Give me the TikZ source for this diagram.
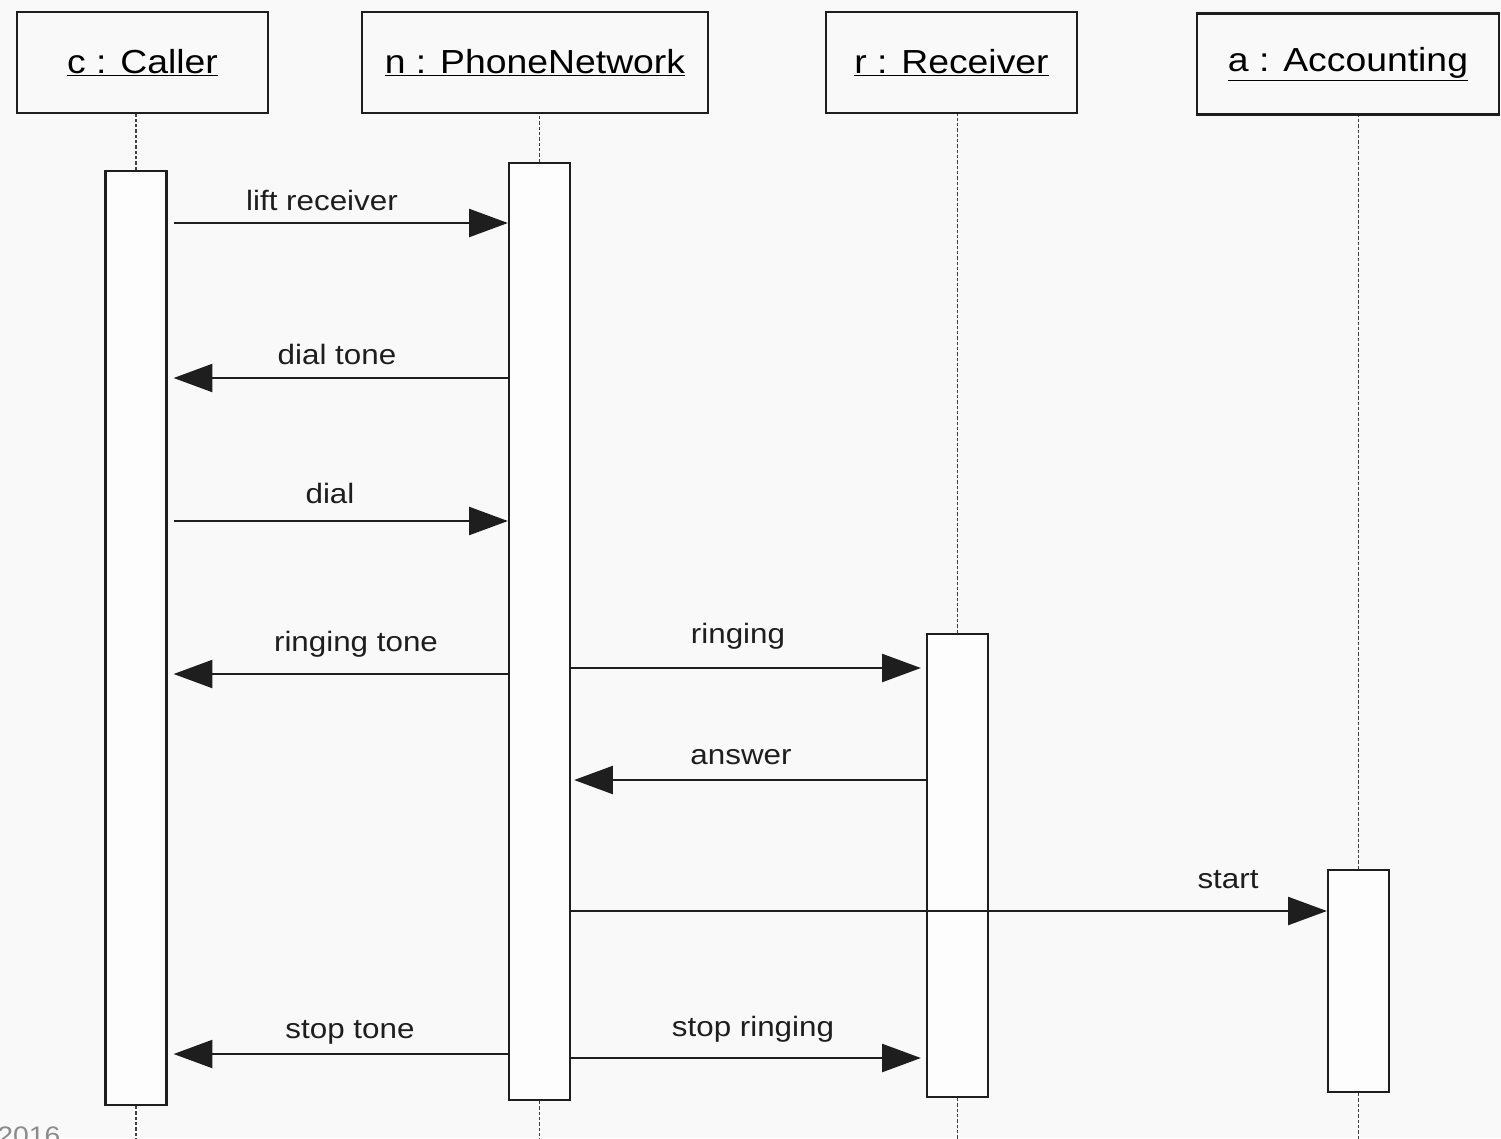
\documentclass[tikz,border=0pt]{standalone}
\usepackage{fontspec}
\setmainfont{Liberation Sans}[FakeStretch=1.12]
\usetikzlibrary{arrows.meta,calc}
\definecolor{bg}{RGB}{249,249,249}
\definecolor{ink}{RGB}{30,30,30}
\begin{document}
\begin{tikzpicture}[x=0.75pt,y=-0.75pt,
  head/.style={draw=ink,line width=1.7pt,fill=bg,rectangle,inner sep=0pt,
    minimum height=75.75pt,font=\fontsize{25}{28}\selectfont},
  act/.style={draw=ink,line width=1.7pt,fill=white!60!bg,rectangle,inner sep=0pt,minimum width=45.75pt},
  life/.style={draw=ink!85,line width=1.3pt,dash pattern=on 2.5pt off 1.5pt},
  msg/.style={draw=ink,line width=1.5pt,-{Triangle[length=29pt,width=21pt]}},
  lbl/.style={anchor=base,inner sep=0pt,text=ink,font=\fontsize{21}{24}\selectfont}]
\fill[bg] (0,0) rectangle (1501,1138);
\useasboundingbox (0,0) rectangle (1501,1138);

% headers
\node[head,minimum width=188.25pt] (hC) at (142.5,62.5) {\underline{c : Caller}};
\node[head,minimum width=259.5pt]  (hN) at (535,62.5)   {\underline{n : PhoneNetwork}};
\node[head,minimum width=188.25pt] (hR) at (951.5,62.5) {\underline{r : Receiver}};
\node[head,minimum width=226.5pt]  (hA) at (1348,64)    {\underline{a : Accounting}};

% activation boxes
\node[act,minimum height=700.5pt] (aC) at (136,638) {};
\node[act,minimum height=702.75pt] (aN) at (539.5,631.5) {};
\node[act,minimum height=347.25pt] (aR) at (957.5,865.5) {};
\node[act,minimum height=166.5pt] (aA) at (1358.5,981) {};

\coordinate (bot) at (0,1145);

% lifelines
\draw[life] (aC.north) -- (aC.north |- hC.south);
\draw[life] (aN.north) -- (aN.north |- hN.south);
\draw[life] (aR.north) -- (aR.north |- hR.south);
\draw[life] (aA.north) -- (aA.north |- hA.south);
\draw[life] (aC.south) -- (aC.south |- bot);
\draw[life] (aN.south) -- (aN.south |- bot);
\draw[life] (aR.south) -- (aR.south |- bot);
\draw[life] (aA.south) -- (aA.south |- bot);

% message levels
\coordinate (m1) at (0,223);
\coordinate (m2) at (0,378);
\coordinate (m3) at (0,521);
\coordinate (m4) at (0,674);
\coordinate (m5) at (0,668);
\coordinate (m6) at (0,780);
\coordinate (m7) at (0,911);
\coordinate (m8) at (0,1054);
\coordinate (m9) at (0,1058);

\draw[msg] ([xshift=4.5pt]aC.east |- m1) -- (aN.west |- m1);
\draw[msg] (aN.west |- m2) -- ([xshift=4.5pt]aC.east |- m2);
\draw[msg] ([xshift=4.5pt]aC.east |- m3) -- (aN.west |- m3);
\draw[msg] (aN.west |- m4) -- ([xshift=4.5pt]aC.east |- m4);
\draw[msg] (aN.east |- m5) -- ([xshift=-3.75pt]aR.west |- m5);
\draw[msg] (aR.west |- m6) -- ([xshift=2.25pt]aN.east |- m6);
\draw[msg] (aN.east |- m7) -- (aA.west |- m7);
\draw[msg] (aN.west |- m8) -- ([xshift=4.5pt]aC.east |- m8);
\draw[msg] (aN.east |- m9) -- ([xshift=-3.75pt]aR.west |- m9);

% labels
\node[lbl] (l1) at (322,210) {lift receiver};
\node[lbl] (l2) at (337,364) {dial tone};
\node[lbl] (l3) at (330,503) {dial};
\node[lbl] (l4) at (356,651) {ringing tone};
\node[lbl] (l5) at (738,643) {ringing};
\node[lbl] (l6) at (741,764) {answer};
\node[lbl] (l7) at (1228,888) {start};
\node[lbl] (l8) at (350,1038) {stop tone};
\node[lbl] (l9) at (753,1036) {stop ringing};

% cut-off corner text
\node[anchor=north west,inner sep=0pt,text=black!45,font=\fontsize{19}{22}\selectfont] (wm) at (-3,1127) {2016};
\end{tikzpicture}
\end{document}
